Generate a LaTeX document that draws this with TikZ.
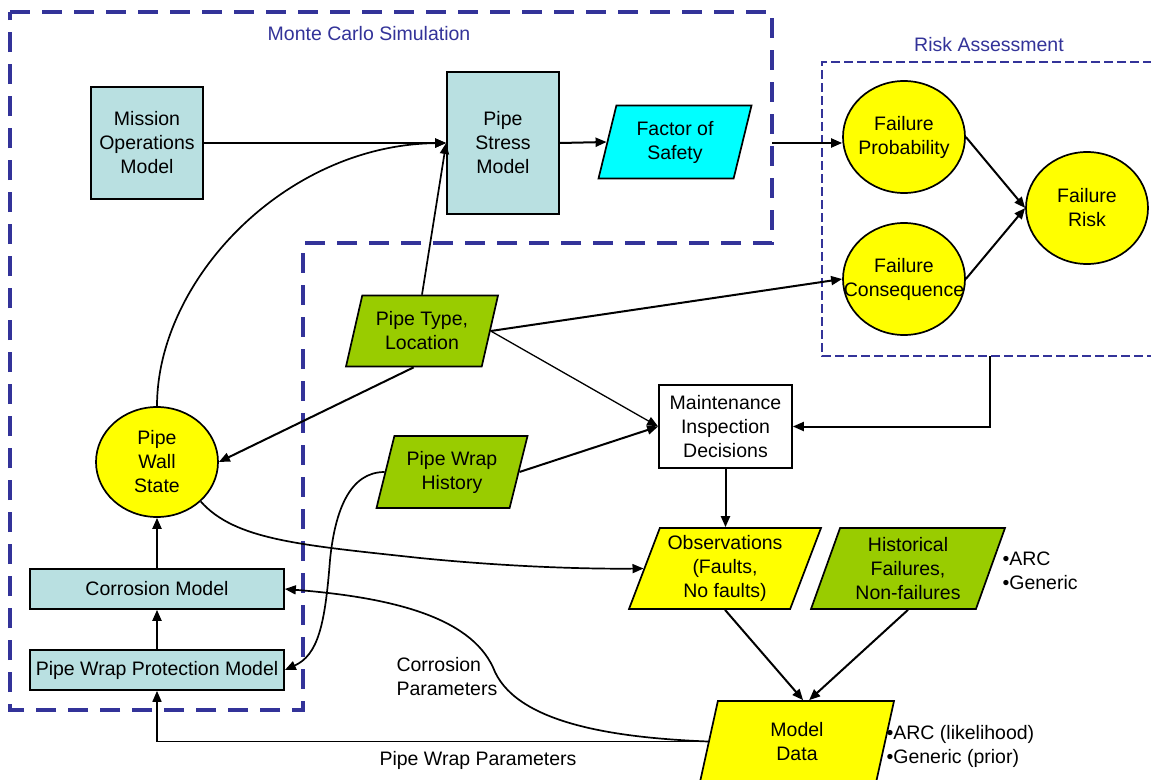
\documentclass[tikz,border=0pt]{standalone}
\usepackage{fontspec}
\setmainfont{Liberation Sans}
\usetikzlibrary{shapes.geometric,arrows.meta}
\definecolor{mcblue}{HTML}{333399}
\definecolor{boxblue}{HTML}{B9E0E1}
\definecolor{fosc}{HTML}{00FFFF}
\definecolor{ylw}{HTML}{FFFF00}
\definecolor{grn}{HTML}{99CC00}
\begin{document}
\begin{tikzpicture}[x=1pt,y=-1pt,
  every node/.style={font=\fontsize{19.5}{24}\selectfont},
  blbox/.style={draw, line width=1.7pt, fill=boxblue, align=center, inner sep=0pt},
  circ/.style={ellipse, draw, line width=1.7pt, fill=ylw, align=center, inner ysep=0pt, inner xsep=-40pt, minimum width=122, minimum height=112},
  paraA/.style={trapezium, trapezium stretches body, trapezium left angle=67, trapezium right angle=113, draw, line width=1.7pt, align=center, inner sep=0pt},
  paraB/.style={trapezium, trapezium stretches body, trapezium left angle=65, trapezium right angle=115, draw, line width=1.7pt, align=center, inner sep=0pt},
  arr/.style={line width=2pt, -{Triangle[length=11pt,width=9pt]}},
  midarr/.style={line width=1.7pt, -{Triangle[length=11pt,width=9pt]}},
  thinarr/.style={line width=1.3pt, -{Triangle[length=11pt,width=9pt]}}
]
\useasboundingbox (0,0) rectangle (1151,779);
\fill[white] (0,0) rectangle (1151,779);

% frames
\draw[mcblue, line width=3.5pt, dash pattern=on 20pt off 12pt] (10,12) -- (772,12) -- (772,243) -- (303,243) -- (303,710) -- (10,710) -- cycle;
\draw[mcblue, line width=2.5pt, dash pattern=on 9pt off 4pt] (1165,62) -- (822,62) -- (822,356) -- (1165,356);
\node[text=mcblue] (mctitle) at (369,34) {Monte Carlo Simulation};
\node[text=mcblue] (ratitle) at (989,45) {Risk Assessment};

% nodes
\node[blbox, minimum width=112, minimum height=112] (mission) at (147,143) {Mission\\Operations\\Model};
\node[blbox, minimum width=112, minimum height=142] (pstress) at (503,143) {Pipe\\Stress\\Model};
\node[paraA, fill=fosc, minimum width=153, minimum height=73] (fos) at (675,142) {Factor of\\Safety};
\node[circ] (fprob) at (904,137) {Failure\\Probability};
\node[circ] (fcons) at (904,279) {Failure\\Consequence};
\node[circ] (frisk) at (1087,208) {Failure\\Risk};
\node[paraA, fill=grn, minimum width=152, minimum height=71] (ptype) at (422,331) {Pipe Type,\\Location};
\node[paraA, fill=grn, minimum width=151, minimum height=72] (pwh) at (452,472) {Pipe Wrap\\History};
\node[circ, minimum height=110] (pws) at (157,462) {Pipe\\Wall\\State};
\node[draw, line width=1.7pt, fill=white, align=center, inner sep=0pt, minimum width=133, minimum height=83] (maint) at (725.5,426.5) {Maintenance\\Inspection\\Decisions};
\node[blbox, minimum width=254, minimum height=40] (corr) at (157,589) {Corrosion Model};
\node[blbox, minimum width=254, minimum height=40] (pwpm) at (157,670) {Pipe Wrap Protection Model};
\node[paraB, fill=ylw, minimum width=192, minimum height=81] (obs) at (725,568.5) {Observations\\(Faults,\\No faults)};
\node[paraB, fill=grn, minimum width=194, minimum height=81] (hist) at (908,568.5) {Historical\\Failures,\\Non-failures};
\node[paraB, fill=ylw, minimum width=194, minimum height=81] (md) at (797,741.5) {Model\\Data};
\node[anchor=west, align=left] (histnote) at (999,571) {•ARC\\•Generic};
\node[anchor=west, align=left] (mdnote) at (883,746) {•ARC (likelihood)\\•Generic (prior)};
\node[anchor=west, align=left] (cplabel) at (393,677) {Corrosion\\Parameters};
\node (pwplabel) at (478,760) {Pipe Wrap Parameters};

% connectors
\coordinate (mcR) at (772,143);
\coordinate (raB) at (990,356);
\draw[arr] (mission.east) -- (pstress.west);
\draw[arr] (pstress.east) -- (fos.left side);
\draw[arr] (mcR) -- (mcR -| fprob.west);
\draw[arr] (fprob.east) -- (frisk.west);
\draw[arr] (fcons.east) -- (frisk.west);
\draw[arr] (ptype.right side) -- (fcons.west);
\draw[thinarr] (ptype.right side) -- (maint.west);
\draw[arr] (pwh.right side) -- (maint.west);
\draw[arr] (ptype.bottom side) -- (pws.east);
\draw[midarr] (ptype.center |- ptype.top side) -- (pstress.west);
\draw[midarr] (pws.north) .. controls (157,280) and (285,145) .. (pstress.west);
\draw[midarr] (pwh.left side) .. controls (350,472) and (335,510) .. (330,560) .. controls (325,625) and (318,655) .. (pwpm.east);
\draw[midarr] (pws.south east) .. controls (235,540) and (300,545) .. (420,558) .. controls (520,568) and (600,569) .. (obs.left side);
\draw[midarr] (md.left side) .. controls (620,738) and (520,725) .. (495,672) .. controls (475,620) and (400,598) .. (corr.east);
\draw[midarr] (md.left side) -| (pwpm.south);
\draw[arr] (maint.south) -- (maint.south |- obs.top side);
\draw[arr] (raB) |- (maint.east);
\draw[arr] (obs.center |- obs.bottom side) -- ([xshift=-3pt]md.top side);
\draw[arr] (hist.center |- hist.bottom side) -- ([xshift=3pt]md.top side);
\draw[arr] (corr.north) -- (pws.south);
\draw[arr] (pwpm.north) -- (corr.south);
\end{tikzpicture}
\end{document}
